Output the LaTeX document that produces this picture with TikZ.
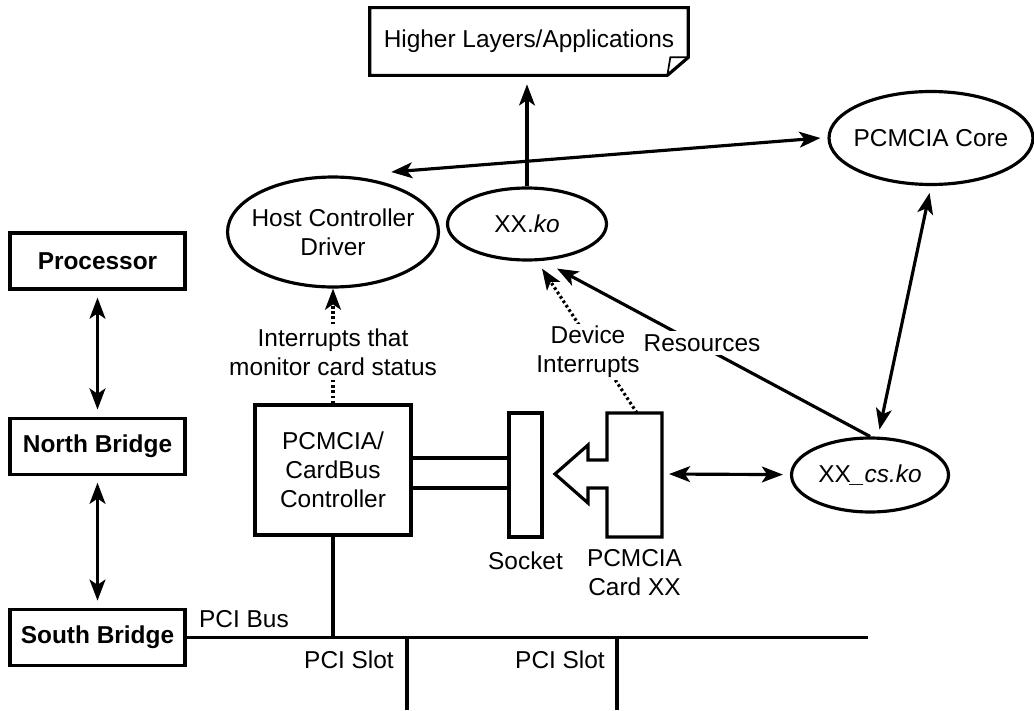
\documentclass[tikz,border=0pt]{standalone}
\usepackage{fontspec}
\setmainfont{Liberation Sans}
\usetikzlibrary{positioning, shapes.geometric, arrows.meta}

\begin{document}
\begin{tikzpicture}[
			x=0.02cm, y=-0.02cm,
			nodes = {
				align = center,
				font=\fontsize{13.9}{16.5}\selectfont
			},
			hwbox/.style={
				draw,
				rectangle,
				line width=1.8pt,
				minimum width=3.5cm,
				minimum height=1.12cm,
				font=\fontsize{13.9}{16.5}\selectfont\bfseries
			},
			block/.style={
				draw,
				rectangle,
				line width=1.8pt,
				inner sep=0pt
			},
			module/.style={
				ellipse,
				draw,
				line width=1.8pt,
				inner xsep=-0.2cm,
				inner ysep=0pt
			},
			lines/.style={
				line width=1.8pt,
				>={Stealth[length=12pt,width=9pt,inset=3pt]}
			},
			irq/.style={
				lines,
				dash pattern=on 1.5pt off 1.5pt
			},
			tipgap/.style={
				shorten <=0.14cm,
				shorten >=0.14cm
			}
		]
			\useasboundingbox (0,0) rectangle (1034,710);

			% hardware side
			\node[hwbox] (proc) at (97.5,261) {Processor};
			\node[hwbox] (nb) [below=2.52cm of proc] {North Bridge};
			\node[hwbox] (sb) [below=2.64cm of nb] {South Bridge};

			\node[block, minimum width=3.12cm, minimum height=2.6cm] (ctrl) at (333,470) {PCMCIA/\\CardBus\\Controller};
			\node[block, minimum width=0.66cm, minimum height=2.48cm] (sock) at (525.5,475) {};
			\node (sockl) [below=0.15cm of sock] {Socket};

			\draw[lines] (607,413) -- (607,460) -- (588,460) -- (588,445) -- (555,474) -- (588,503) -- (588,488) -- (607,488) -- (607,537) -- (662,537) -- (662,413) -- cycle;
			\coordinate (cardtop) at (637,413);
			\coordinate (cardright) at (662,474);
			\coordinate (cardbot) at (634.5,537);
			\node (cardl) [below=0.12cm of cardbot] {PCMCIA\\Card XX};

			% software side
			\node[module, minimum width=4.22cm, minimum height=2.2cm] (hcd) at (333,232) {Host Controller\\Driver};
			\node[module, minimum width=3.18cm, minimum height=1.44cm] (xxko) at (527,224) {XX.\textit{ko}};
			\node[module, minimum width=4.08cm, minimum height=1.86cm] (core) at (931,138) {PCMCIA Core};
			\node[module, minimum width=3.14cm, minimum height=1.48cm] (xxcs) at (870,475) {XX\textit{\_cs.ko}};

			\node[minimum width=6.36cm, minimum height=1.34cm] (hl) at (529,41.5) {Higher Layers/Applications};
			\draw[lines] (hl.north west) -- (hl.north east) -- ([yshift=0.36cm]hl.south east) -- ([xshift=-0.42cm]hl.south east) -- (hl.south west) -- cycle;
			\draw[lines, line width=1pt] ([xshift=-0.42cm]hl.south east) -- ([xshift=-0.36cm,yshift=0.36cm]hl.south east) -- ([yshift=0.36cm]hl.south east);

			% PCI bus
			\coordinate (busend) at (sb.east -| 868,0);
			\coordinate (slota) at (407,710);
			\coordinate (slotb) at (617,710);
			\draw[lines] (sb.east) -- (busend);
			\draw[lines] (ctrl.south) -- (ctrl.south |- busend);
			\draw[lines] (slota |- busend) -- (slota);
			\draw[lines] (slotb |- busend) -- (slotb);
			\node[anchor=base west] (busl) at (193,627) {PCI Bus};
			\node[anchor=base east] (slotal) at (400,668) {PCI Slot};
			\node[anchor=base east] (slotbl) at (611,668) {PCI Slot};

			\draw[lines] (ctrl.east |- 0,458) -- (sock.west |- 0,458);
			\draw[lines] (ctrl.east |- 0,488) -- (sock.west |- 0,488);

			\draw[lines,<->,tipgap] (proc) -- (nb);
			\draw[lines,<->,tipgap] (nb) -- (sb);

			\draw[lines,->,shorten >=0.18cm] (xxko.north) -- (xxko.north |- hl.south);
			\draw[lines,<->] ([xshift=-0.35cm,yshift=0.4cm]hcd.north east) -- ([xshift=-0.14cm]core.west);
			\draw[lines,<->,tipgap] (core.south) -- ([xshift=0.16cm]xxcs.north);
			\draw[lines,<->,tipgap] (cardright) -- (xxcs);

			\draw[irq,->] (ctrl) -- (hcd);
			\draw[irq,->] (cardtop) -- ([xshift=0.3cm,yshift=-0.14cm]xxko.south);
			\draw[lines,->] (xxcs.north) -- ([xshift=0.6cm,yshift=-0.14cm]xxko.south);

			\node[fill=white, inner sep=1pt] (irql) at (333,352) {Interrupts that\\monitor card status};
			\node[fill=white, inner sep=1pt] (devl) at (588,352) {Device\\Interrupts};
			\node[fill=white, inner sep=2pt] (resl) at (702,343) {Resources};

		\end{tikzpicture}
\end{document}
